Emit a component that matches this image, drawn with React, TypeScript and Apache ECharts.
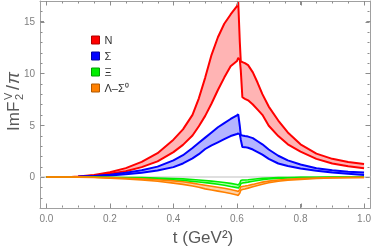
import React, { useEffect, useRef } from 'react';
import * as echarts from 'echarts';

// t grid (GeV^2) shared by all bands
const tValues = [0, 0.078, 0.1, 0.15, 0.2, 0.25, 0.3, 0.35, 0.4, 0.43, 0.46, 0.48, 0.5, 0.52, 0.54, 0.56, 0.58, 0.6, 0.604, 0.609, 0.612, 0.617, 0.625, 0.635, 0.65, 0.665, 0.68, 0.7, 0.73, 0.76, 0.8, 0.85, 0.9, 0.95, 1.0];

const nUpper = [0, 0, 0.05, 0.2, 0.45, 0.85, 1.45, 2.3, 3.6, 4.6, 6.0, 7.6, 9.6, 11.8, 13.5, 14.8, 15.7, 16.5, 16.9, 13.0, 11.15, 11.1, 11.0, 10.8, 10.1, 9.1, 8.0, 6.8, 5.45, 4.3, 3.15, 2.25, 1.75, 1.45, 1.25];
const nLower = [0, 0, 0.03, 0.13, 0.3, 0.55, 0.95, 1.5, 2.4, 3.1, 4.0, 4.9, 5.9, 7.1, 8.4, 9.6, 10.7, 11.2, 11.5, 11.3, 10.3, 7.7, 7.55, 7.4, 7.0, 6.5, 6.0, 4.95, 3.95, 3.15, 2.45, 1.75, 1.3, 1.03, 0.85];

const sigmaUpper = [0, 0, 0.02, 0.1, 0.22, 0.4, 0.65, 1.0, 1.6, 2.1, 2.8, 3.3, 3.8, 4.3, 4.8, 5.2, 5.6, 5.95, 6.05, 4.9, 4.05, 4.0, 3.95, 3.9, 3.75, 3.45, 3.15, 2.65, 2.05, 1.6, 1.2, 0.85, 0.65, 0.5, 0.42];
const sigmaLower = [0, 0, 0.01, 0.06, 0.14, 0.25, 0.4, 0.62, 0.95, 1.3, 1.8, 2.2, 2.7, 3.05, 3.35, 3.65, 3.95, 4.15, 4.2, 4.1, 3.6, 2.9, 2.88, 2.82, 2.65, 2.4, 2.15, 1.75, 1.3, 1.05, 0.82, 0.6, 0.42, 0.3, 0.2];

const xiUpper = [0, 0, -0.003, -0.01, -0.03, -0.05, -0.07, -0.1, -0.15, -0.19, -0.25, -0.3, -0.35, -0.4, -0.46, -0.53, -0.62, -0.73, -0.77, -0.6, -0.35, -0.3, -0.29, -0.27, -0.22, -0.18, -0.14, -0.1, -0.07, -0.05, -0.04, -0.03, -0.02, -0.015, -0.01];
const xiLower = [0, 0, -0.005, -0.02, -0.06, -0.09, -0.13, -0.19, -0.28, -0.34, -0.43, -0.49, -0.55, -0.62, -0.7, -0.8, -0.92, -1.03, -1.08, -0.9, -0.65, -0.58, -0.55, -0.5, -0.42, -0.34, -0.27, -0.2, -0.14, -0.1, -0.07, -0.05, -0.035, -0.025, -0.02];

const lsUpper = [0, 0, -0.01, -0.03, -0.07, -0.12, -0.18, -0.27, -0.38, -0.47, -0.6, -0.7, -0.8, -0.9, -1.0, -1.1, -1.22, -1.36, -1.4, -1.2, -0.95, -0.92, -0.88, -0.82, -0.72, -0.6, -0.5, -0.4, -0.3, -0.22, -0.16, -0.1, -0.07, -0.05, -0.04];
const lsLower = [0, 0, -0.015, -0.05, -0.12, -0.19, -0.28, -0.42, -0.6, -0.72, -0.88, -1.0, -1.15, -1.26, -1.37, -1.48, -1.6, -1.74, -1.78, -1.55, -1.28, -1.22, -1.16, -1.08, -0.95, -0.82, -0.7, -0.56, -0.42, -0.32, -0.23, -0.15, -0.1, -0.07, -0.06];

const bandNames = ['N', 'Σ', 'Ξ', 'Λ–Σ⁰'];

const xMajorTicks = [0, 0.2, 0.4, 0.6, 0.8, 1.0];
const xMinorTicks = [0.05, 0.1, 0.15, 0.25, 0.3, 0.35, 0.45, 0.5, 0.55, 0.65, 0.7, 0.75, 0.85, 0.9, 0.95];
const yMajorTicks = [0, 5, 10, 15];
const yMinorTicks = [-2, -1, 1, 2, 3, 4, 6, 7, 8, 9, 11, 12, 13, 14, 16];

const X_MIN = -0.02;
const X_MAX = 1.02;
const Y_MIN = -3;
const Y_MAX = 17;

const FRAME = '#a0a0a0';
const TICK = '#8c8c8c';
const LABEL = '#7f7f7f';
const TITLE = '#595959';
const FONT = '"Liberation Sans", Arial, sans-serif';

function bandFill(name: string, up: number[], lo: number[], fill: string) {
  return {
    type: 'custom',
    name: name + '-band',
    xAxisIndex: 0,
    yAxisIndex: 0,
    silent: true,
    clip: true,
    data: tValues.map((t, i) => [t, up[i], lo[i]]),
    encode: { x: 0, y: [1, 2] },
    renderItem: (params: any, api: any) => {
      if (params.dataIndex !== 0) return null;
      const pts: number[][] = [];
      for (let i = 0; i < tValues.length; i++) pts.push(api.coord([tValues[i], up[i]]));
      for (let i = tValues.length - 1; i >= 0; i--) pts.push(api.coord([tValues[i], lo[i]]));
      return { type: 'polygon', shape: { points: pts }, style: { fill, stroke: 'none' } };
    },
  };
}

function edge(name: string, vals: number[], color: string, width: number) {
  return {
    type: 'line',
    name,
    xAxisIndex: 0,
    yAxisIndex: 0,
    data: tValues.map((t, i) => [t, vals[i]]),
    showSymbol: false,
    symbol: 'none',
    silent: true,
    lineStyle: { color, width },
    itemStyle: { color },
  };
}

// frame ticks: one data item per tick, placed with the axis scales
// item = [value, 0 for x-tick / 1 for y-tick, length]
function tickSeries() {
  const items: number[][] = [];
  xMajorTicks.forEach((v) => items.push([v, 0, 4]));
  xMinorTicks.forEach((v) => items.push([v, 0, 2]));
  yMajorTicks.forEach((v) => items.push([v, 1, 4]));
  yMinorTicks.forEach((v) => items.push([v, 1, 2]));
  return {
    type: 'custom',
    name: 'ticks',
    xAxisIndex: 0,
    yAxisIndex: 0,
    silent: true,
    clip: false,
    z: 10,
    dimensions: ['v', 'kind', 'len'],
    encode: { x: -1, y: -1 },
    data: items,
    renderItem: (params: any, api: any) => {
      const cs = params.coordSys;
      const v = api.value(0);
      const kind = api.value(1);
      const len = api.value(2);
      const left = Math.round(cs.x) + 0.5;
      const right = Math.round(cs.x + cs.width) - 0.5;
      const top = Math.round(cs.y) + 0.5;
      const bottom = Math.round(cs.y + cs.height) - 0.5;
      const st = { stroke: TICK, lineWidth: 1, fill: null };
      if (kind === 0) {
        const px = Math.round(api.coord([v, 0])[0]) + 0.5;
        return {
          type: 'group',
          children: [
            { type: 'line', shape: { x1: px, y1: bottom, x2: px, y2: bottom - len }, style: st },
            { type: 'line', shape: { x1: px, y1: top, x2: px, y2: top + len }, style: st },
          ],
        };
      }
      const py = Math.round(api.coord([0, v])[1]) + 0.5;
      return {
        type: 'group',
        children: [
          { type: 'line', shape: { x1: left, y1: py, x2: left + len, y2: py }, style: st },
          { type: 'line', shape: { x1: right, y1: py, x2: right - len, y2: py }, style: st },
        ],
      };
    },
  };
}

function xAxisDef(position: string, showLabel: boolean) {
  return {
    type: 'value',
    position,
    min: X_MIN,
    max: X_MAX,
    axisLine: { show: true, onZero: false, lineStyle: { color: FRAME, width: 1 } },
    axisTick: { show: true, inside: true, length: 4, customValues: xMajorTicks, lineStyle: { color: TICK, width: 1 } },
    axisLabel: {
      show: showLabel,
      customValues: xMajorTicks,
      margin: 5,
      fontSize: 10,
      color: LABEL,
      fontFamily: FONT,
      formatter: (v: number) => v.toFixed(1),
    },
    splitLine: { show: false },
  };
}

function yAxisDef(position: string, showLabel: boolean) {
  return {
    type: 'value',
    position,
    min: Y_MIN,
    max: Y_MAX,
    axisLine: { show: true, onZero: false, lineStyle: { color: FRAME, width: 1 } },
    axisTick: { show: true, inside: true, length: 4, customValues: yMajorTicks, lineStyle: { color: TICK, width: 1 } },
    axisLabel: {
      show: showLabel,
      customValues: yMajorTicks,
      margin: 5,
      fontSize: 10,
      color: LABEL,
      fontFamily: FONT,
      formatter: (v: number) => String(v),
    },
    splitLine: { show: false },
  };
}

export default function App() {
  const ref = useRef<HTMLDivElement>(null);
  useEffect(() => {
    const chart = echarts.init(ref.current as HTMLDivElement, null, { renderer: 'svg' });
    const colors = ['#ff0000', '#0000ff', '#00ee00', '#ff8000'];
    const fills = ['#ffb4b4', '#b4b4ff', '#b4ffb4', '#ffd2a8'];
    const borders = ['#b00000', '#0000a0', '#00a000', '#b05800'];
    const bands = [
      [nUpper, nLower],
      [sigmaUpper, sigmaLower],
      [xiUpper, xiLower],
      [lsUpper, lsLower],
    ];
    const widths = [2, 2, 1.6, 1.6];
    const series: any[] = [
      {
        type: 'line',
        name: 'zero',
        xAxisIndex: 0,
        yAxisIndex: 0,
        data: [[X_MIN, 0], [X_MAX, 0]],
        showSymbol: false,
        symbol: 'none',
        silent: true,
        lineStyle: { color: '#d4d4d4', width: 1.5 },
      },
    ];
    bands.forEach((b, k) => {
      series.push(bandFill(bandNames[k], b[0], b[1], fills[k]));
      series.push(edge(bandNames[k], b[0], colors[k], widths[k]));
      series.push(edge(bandNames[k] + '-lower', b[1], colors[k], widths[k]));
    });
    series.push(tickSeries());

    chart.setOption({
      animation: false,
      grid: { left: 40, right: 2, top: 1, bottom: 42, containLabel: false },
      xAxis: [xAxisDef('bottom', true), xAxisDef('top', false)],
      yAxis: [yAxisDef('left', true), yAxisDef('right', false)],
      legend: {
        data: bandNames.map((n, k) => ({
          name: n,
          icon: 'rect',
          itemStyle: { color: colors[k], borderColor: borders[k], borderWidth: 1 },
        })),
        orient: 'vertical',
        left: 86,
        top: 29,
        itemWidth: 8,
        itemHeight: 8,
        itemGap: 4,
        selectedMode: false,
        textStyle: { fontSize: 11, color: '#333', lineHeight: 12, fontFamily: FONT },
      },
      graphic: [
        {
          type: 'group',
          x: 13,
          y: 131,
          rotation: Math.PI / 2,
          children: [
            { type: 'text', x: 0, y: 0, style: { text: 'ImF', fontSize: 17, fontFamily: FONT, fill: TITLE, align: 'left', verticalAlign: 'middle' } },
            { type: 'text', x: 31, y: -5, style: { text: 'V', fontSize: 11, fontFamily: FONT, fill: TITLE, align: 'left', verticalAlign: 'middle' } },
            { type: 'text', x: 31, y: 5.5, style: { text: '2', fontSize: 11, fontFamily: FONT, fill: TITLE, align: 'left', verticalAlign: 'middle' } },
            { type: 'text', x: 41, y: 0, style: { text: '/', fontSize: 18, fontFamily: FONT, fill: TITLE, align: 'left', verticalAlign: 'middle' } },
            { type: 'text', x: 47, y: 0, style: { text: 'π', fontSize: 18, fontFamily: FONT, fontStyle: 'italic', fill: TITLE, align: 'left', verticalAlign: 'middle' } },
          ],
        },
        {
          type: 'text',
          x: 203,
          y: 237,
          style: { text: 't (GeV²)', fontSize: 17, fontFamily: FONT, fill: TITLE, align: 'center', verticalAlign: 'middle' },
        },
      ],
      series,
    });
    return () => chart.dispose();
  }, []);
  return <div ref={ref} style={{ position: 'fixed', left: 0, top: 0, width: 374, height: 250 }} />;
}
